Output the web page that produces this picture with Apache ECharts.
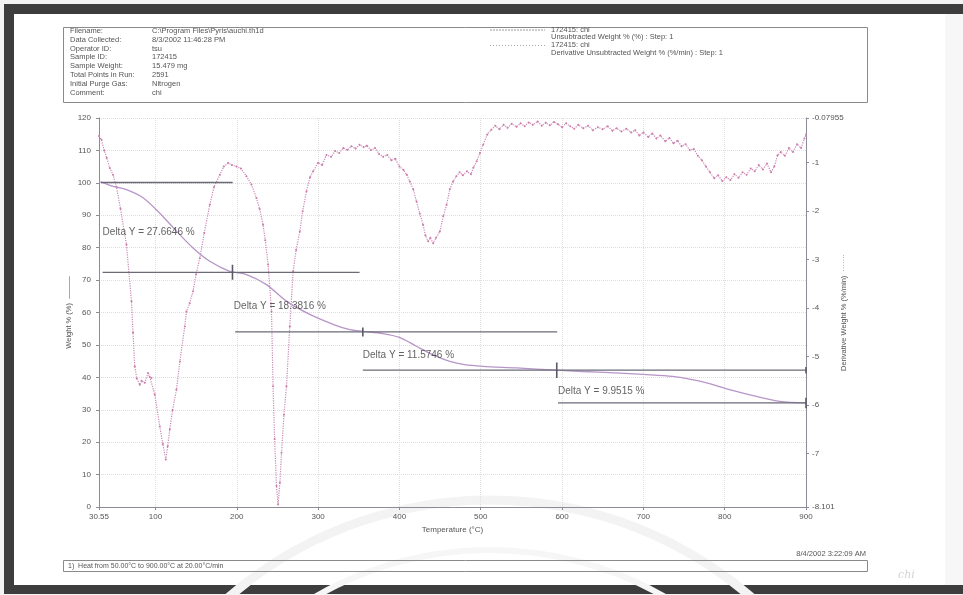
<!DOCTYPE html>
<html>
<head>
<meta charset="utf-8">
<script src="https://cdn.jsdelivr.net/npm/echarts@6/dist/echarts.min.js"></script>
<style>html,body{margin:0;padding:0;background:#fff}#c{width:963px;height:595px}</style>
</head>
<body>
<div id="c"></div>
<script>
// ---- Data ----
var xTicks = [30.55, 100, 200, 300, 400, 500, 600, 700, 800, 900];
var rightTicks = [-8.101, -7, -6, -5, -4, -3, -2, -1, -0.07955];

var weightCurve = [[30.55,100.3],[33.6,100.2],[47.9,98.9],[64.3,97.9],[84.7,95.4],[105,90.7],[125.8,85.1],[146.2,79.9],[166.8,75.8],[191.4,72.7],[212,71.7],[236.5,68.6],[261,63.5],[289.8,59.4],[320,56.2],[339,54.7],[355,54.2],[380,53.5],[400,52.3],[421,49.6],[441,47],[462,44.9],[480,43.9],[502.6,43.4],[544,42.9],[593,42.2],[625,41.8],[665,41.4],[700,40.9],[736,40.3],[760,39.3],[777.7,38.3],[806,36.2],[839,34.1],[868,32.6],[900,32.1]];

var derivCurve = [[30.55,-0.45],[33.6,-0.53],[37,-0.75],[40,-0.9],[43.8,-1.11],[47.8,-1.25],[52,-1.5],[57,-1.95],[64.3,-2.69],[70.5,-3.86],[72.4,-4.51],[74.5,-5.2],[77,-5.45],[80.7,-5.58],[83,-5.5],[86.8,-5.54],[90.9,-5.34],[93,-5.42],[95.1,-5.44],[99.1,-5.78],[105.3,-6.44],[109,-6.8],[112.7,-7.12],[115,-6.85],[117.6,-6.5],[121,-6.1],[125.8,-5.68],[130,-5.1],[136,-4.38],[138.1,-4.07],[142,-3.9],[146.2,-3.65],[150,-3.3],[154.5,-2.97],[160,-2.45],[166.8,-1.87],[172,-1.5],[179.1,-1.25],[184,-1.08],[189.3,-1.01],[194,-1.05],[199.6,-1.08],[205,-1.12],[211.9,-1.28],[218,-1.45],[224.2,-1.73],[228,-1.95],[232.3,-2.28],[235,-2.6],[238.5,-3.1],[242.7,-4.07],[244.6,-5.61],[246.5,-6.7],[248.8,-7.67],[250.8,-8.05],[253,-7.6],[255,-6.98],[258,-6.2],[261.1,-5.61],[265.2,-4.38],[269.3,-3.24],[273,-2.8],[277.5,-2.42],[281,-2.0],[285.7,-1.59],[290,-1.3],[293.9,-1.18],[300,-1.0],[305,-1.05],[310.3,-0.84],[316,-0.88],[321,-0.76],[326,-0.8],[331,-0.7],[336,-0.74],[341,-0.66],[346,-0.71],[351,-0.63],[356,-0.68],[360,-0.65],[365,-0.74],[370,-0.7],[375,-0.82],[380,-0.88],[385,-0.84],[390,-0.95],[395,-0.92],[400,-1.08],[405,-1.15],[409,-1.25],[412.8,-1.39],[417,-1.55],[421,-1.8],[425,-2.05],[429.1,-2.28],[432,-2.5],[435.3,-2.62],[438,-2.55],[441.5,-2.66],[445,-2.55],[449.7,-2.42],[454,-2.1],[458,-1.87],[462,-1.55],[466,-1.39],[470,-1.28],[474,-1.2],[478,-1.26],[483,-1.18],[488,-1.24],[491,-1.1],[495,-0.97],[499,-0.8],[503,-0.63],[508,-0.42],[513,-0.32],[518,-0.24],[523,-0.31],[528,-0.22],[533,-0.28],[538,-0.2],[544,-0.26],[549,-0.19],[554,-0.25],[559,-0.17],[564,-0.22],[570,-0.15],[575,-0.24],[580,-0.18],[585,-0.23],[590,-0.16],[595,-0.21],[600,-0.27],[605,-0.19],[610,-0.25],[615,-0.3],[620,-0.22],[626,-0.29],[632,-0.24],[638,-0.33],[644,-0.27],[650,-0.31],[656,-0.25],[662,-0.34],[667,-0.29],[673,-0.36],[679,-0.3],[685,-0.38],[690,-0.33],[695,-0.44],[700,-0.38],[706,-0.47],[711,-0.4],[716,-0.5],[721,-0.44],[727,-0.56],[732,-0.49],[737,-0.6],[742,-0.55],[747,-0.66],[752,-0.62],[757,-0.74],[762,-0.72],[767,-0.86],[772,-0.95],[777,-1.08],[782,-1.2],[787,-1.32],[792,-1.26],[797,-1.38],[802,-1.3],[807,-1.36],[812,-1.24],[817,-1.31],[822,-1.2],[827,-1.25],[832,-1.12],[837,-1.18],[842,-1.05],[847,-1.14],[852,-1.02],[857,-1.2],[861,-1.08],[865,-0.85],[869,-0.78],[874,-0.86],[879,-0.7],[884,-0.78],[889,-0.62],[894,-0.7],[898,-0.5],[900,-0.42]];

// step lines: [startT, endT, weight]
var stepLines = [[33, 195, 100.1], [35, 351, 72.4], [198, 594, 54.0], [355, 900, 42.2], [595, 900, 32.1]];
// tick marks on step lines: [T, weight, half-height]
var stepTicks = [[194.7, 72.4, 2.3], [355, 54.0, 1.4], [593.5, 42.2, 2.4], [900, 32.1, 1.6], [900, 42.2, 1.0]];
// delta labels: [T, weight, text]
var deltaLabels = [[35, 84.9, 'Delta Y = 27.6646 %'], [196.4, 61.8, 'Delta Y = 18.3816 %'], [355, 46.7, 'Delta Y = 11.5746 %'], [595, 35.6, 'Delta Y = 9.9515 %']];

var headerKeys = ['Filename:', 'Data Collected:', 'Operator ID:', 'Sample ID:', 'Sample Weight:', 'Total Points in Run:', 'Initial Purge Gas:', 'Comment:'];
var headerVals = ['C:\\Program Files\\Pyris\\auchi.th1d', '8/3/2002 11:46:28 PM', 'tsu', '172415', '15.479 mg', '2591', 'Nitrogen', 'chi'];
var legendTexts = ['172415: chi', 'Unsubtracted Weight % (%) : Step: 1', '172415: chi', 'Derivative Unsubtracted Weight % (%/min) : Step: 1'];

// ---- Build ----
var FONT = 'Liberation Sans, Arial, sans-serif';
var series = [];
series.push({
  type: 'line', yAxisIndex: 1, data: derivCurve, showSymbol: true, symbol: 'circle', symbolSize: 2,
  itemStyle: {color: '#cf7aa8'}, lineStyle: {color: '#c98ab8', width: 1.2, type: 'dotted'}, z: 3, silent: true
});
series.push({
  type: 'line', yAxisIndex: 0, data: weightCurve, showSymbol: false, smooth: 0.3,
  lineStyle: {color: '#b795c8', width: 1.3}, z: 4, silent: true
});
stepLines.forEach(function (s) {
  series.push({type: 'line', yAxisIndex: 0, data: [[s[0], s[2]], [s[1], s[2]]], showSymbol: false,
    lineStyle: {color: '#6b6b78', width: 1.3}, z: 5, silent: true});
});
stepTicks.forEach(function (t) {
  series.push({type: 'line', yAxisIndex: 0, data: [[t[0], t[1] - t[2]], [t[0], t[1] + t[2]]], showSymbol: false,
    lineStyle: {color: '#5a5a66', width: 1.6}, z: 5, silent: true});
});
series.push({
  type: 'scatter', yAxisIndex: 0, symbolSize: 0, silent: true, z: 6,
  data: deltaLabels.map(function (d) { return {value: [d[0], d[1]], name: d[2]}; }),
  label: {show: true, position: 'right', distance: 0, formatter: function (p) { return p.name; },
    color: '#3a3a3a', fontFamily: FONT, fontSize: 10}
});

var graphic = [];
// scan frame
graphic.push({type: 'rect', shape: {x: 0, y: 0, width: 963, height: 595}, style: {fill: '#f3f3f3'}, z: -10});
graphic.push({type: 'rect', shape: {x: 4, y: 4, width: 959, height: 590}, style: {fill: '#3d3d3d'}, z: -9});
graphic.push({type: 'rect', shape: {x: 14, y: 14, width: 949, height: 571}, style: {fill: '#ffffff'}, z: -8});
graphic.push({type: 'rect', shape: {x: 945, y: 14, width: 18, height: 571}, style: {fill: '#f7f7f7'}, z: -7});
// faint watermark arcs
graphic.push({type: 'arc', shape: {cx: 490, cy: 900, r: 400, startAngle: Math.PI * 1.15, endAngle: Math.PI * 1.85}, style: {stroke: '#f3f3f3', lineWidth: 9, fill: null}, z: -6});
graphic.push({type: 'arc', shape: {cx: 490, cy: 900, r: 350, startAngle: Math.PI * 1.2, endAngle: Math.PI * 1.8}, style: {stroke: '#f6f6f6', lineWidth: 6, fill: null}, z: -6});
// header box
graphic.push({type: 'rect', shape: {x: 63.5, y: 27.5, width: 804, height: 75}, style: {fill: null, stroke: '#8a8a8a', lineWidth: 1}, z: 1});
headerKeys.forEach(function (k, i) {
  graphic.push({type: 'text', x: 70, y: 31 + i * 8.8, style: {text: k, fill: '#555', font: '7.5px ' + FONT, verticalAlign: 'middle'}, z: 2});
  graphic.push({type: 'text', x: 152, y: 31 + i * 8.8, style: {text: headerVals[i], fill: '#555', font: '7.5px ' + FONT, verticalAlign: 'middle'}, z: 2});
});
graphic.push({type: 'line', shape: {x1: 490, y1: 30, x2: 545, y2: 30}, style: {stroke: '#999', lineWidth: 1, lineDash: [2, 1]}, z: 2});
graphic.push({type: 'line', shape: {x1: 490, y1: 45.5, x2: 545, y2: 45.5}, style: {stroke: '#aaa', lineWidth: 1, lineDash: [1, 2]}, z: 2});
legendTexts.forEach(function (t, i) {
  graphic.push({type: 'text', x: 551, y: 29.5 + i * 7.8, style: {text: t, fill: '#555', font: '7.5px ' + FONT, verticalAlign: 'middle'}, z: 2});
});
// footer
graphic.push({type: 'text', x: 866, y: 554, style: {text: '8/4/2002 3:22:09 AM', fill: '#555', font: '7.5px ' + FONT, align: 'right', verticalAlign: 'middle'}, z: 2});
graphic.push({type: 'rect', shape: {x: 63.5, y: 560.5, width: 804, height: 11}, style: {fill: null, stroke: '#8a8a8a', lineWidth: 1}, z: 1});
graphic.push({type: 'text', x: 68, y: 566, style: {text: '1)  Heat from 50.00\u00b0C to 900.00\u00b0C at 20.00\u00b0C/min', fill: '#555', font: '7px ' + FONT, verticalAlign: 'middle'}, z: 2});
graphic.push({type: 'text', x: 898, y: 575, style: {text: 'chi', fill: '#d4d4d4', font: 'italic 11px DejaVu Serif, serif', verticalAlign: 'middle'}, z: 2});

var axisLineStyle = {color: '#8c8c99', width: 1};
var labelStyle = {color: '#555', fontFamily: FONT, fontSize: 8};

var option = {
  animation: false,
  backgroundColor: 'transparent',
  graphic: graphic,
  grid: {left: 99, right: 157, top: 118, bottom: 88, containLabel: false},
  xAxis: {
    type: 'value', min: 30.55, max: 900,
    name: 'Temperature (\u00b0C)', nameLocation: 'middle', nameGap: 19, nameMoveOverlap: false,
    nameTextStyle: {color: '#555', fontFamily: FONT, fontSize: 8},
    axisLine: {lineStyle: axisLineStyle},
    axisTick: {show: true, length: 3, customValues: xTicks, lineStyle: axisLineStyle},
    axisLabel: Object.assign({customValues: xTicks, margin: 6, formatter: function (v) { return String(v); }}, labelStyle),
    splitLine: {show: true, lineStyle: {color: '#dedede', type: 'dotted', width: 1}}
  },
  yAxis: [{
    type: 'value', min: 0, max: 120, interval: 10,
    name: 'Weight % (%)  \u2014\u2014\u2014', nameLocation: 'middle', nameGap: 26, nameRotate: 90, nameMoveOverlap: false,
    nameTextStyle: {color: '#555', fontFamily: FONT, fontSize: 7.5},
    axisLine: {show: true, lineStyle: axisLineStyle},
    axisTick: {show: true, length: 3, lineStyle: axisLineStyle},
    axisLabel: Object.assign({margin: 8}, labelStyle),
    splitLine: {show: true, lineStyle: {color: '#dedede', type: 'dotted', width: 1}}
  }, {
    type: 'value', min: -8.101, max: -0.07955, position: 'right',
    name: 'Derivative Weight % (%/min)  \u00b7\u00b7\u00b7\u00b7\u00b7\u00b7\u00b7', nameLocation: 'middle', nameGap: 34, nameRotate: 90, nameMoveOverlap: false,
    nameTextStyle: {color: '#555', fontFamily: FONT, fontSize: 7.5},
    axisLine: {show: true, onZero: false, lineStyle: axisLineStyle},
    axisTick: {show: true, length: 3, customValues: rightTicks, lineStyle: axisLineStyle},
    axisLabel: Object.assign({customValues: rightTicks, margin: 6, formatter: function (v) { return String(v); }}, labelStyle),
    splitLine: {show: false}
  }],
  series: series
};

var chart = echarts.init(document.getElementById('c'), null, {renderer: 'canvas'});
chart.setOption(option);
</script>
</body>
</html>
